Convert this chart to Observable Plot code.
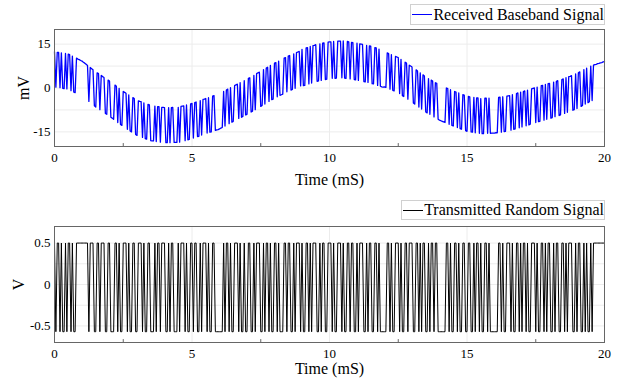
<!DOCTYPE html>
<html><head><meta charset="utf-8">
<script src="https://cdn.jsdelivr.net/npm/d3@7"></script>
<script src="https://cdn.jsdelivr.net/npm/@observablehq/plot@0.6"></script>
<style>
html,body{margin:0;padding:0;background:#fff;}
#wrap{position:relative;width:624px;height:382px;overflow:hidden;font-family:"Liberation Serif","Times New Roman",serif;}
#wrap svg, #wrap svg text{font-family:"Liberation Serif","Times New Roman",serif !important;}
.panel{position:absolute;left:0;}
.legend{position:absolute;box-sizing:border-box;border:1px solid #d0d0d0;background:#fff;font-size:16px;line-height:18px;display:flex;align-items:center;white-space:nowrap;color:#000;}
.legend .sw{display:inline-block;width:21px;height:0;border-top:1.6px solid;margin:0 1px 0 1px;}
</style></head><body>
<div id="wrap">
  <div id="top" class="panel" style="top:0px"></div>
  <div id="bottom" class="panel" style="top:190px"></div>
  <div class="legend" style="left:410px;top:4px;width:195px;height:21px"><span class="sw" style="border-color:#0000ff"></span>Received Baseband Signal</div>
  <div class="legend" style="left:401px;top:200px;width:204px;height:20px"><span class="sw" style="border-color:#000"></span>Transmitted Random Signal</div>
</div>
<script>
// ---- data (read/estimated from the reference) ----
const xTicks = [0, 5, 10, 15, 20];
const xMinorTicks = [2.5, 7.5, 12.5, 17.5];
const topYTicks = [-15, 0, 15];
const topYGrid = [-15, -7.5, 0, 7.5, 15];
const bottomYTicks = [-0.5, 0, 0.5];
const bottomYGrid = [-0.5, -0.25, 0, 0.25, 0.5];
const sampleStep = 0.05; // mS per bit

// transmitted bits, one per 0.05 mS (20 bits per mS), plus final sample at 20 mS
const bits = [
  1,0,1,1,0,1,0,0,1,0,1,1,0,1,0,0,1,1,1,1,
  1,1,1,1,1,0,1,1,1,0,0,1,1,0,1,1,1,0,0,1,
  1,0,0,0,1,1,0,1,0,0,1,1,1,0,1,0,0,1,1,0,
  0,1,1,1,0,1,0,0,1,1,0,0,0,1,0,1,1,0,1,1,
  1,0,0,1,0,1,1,0,0,0,1,0,1,1,1,0,1,0,0,1,
  1,0,1,1,0,0,1,0,1,1,1,0,1,0,0,1,1,0,0,0,
  0,0,0,1,0,1,1,0,1,0,0,1,1,1,0,1,0,0,1,0,
  0,1,1,0,0,1,0,1,1,1,0,0,1,0,1,1,0,1,0,0,
  1,1,0,1,0,0,0,1,1,0,1,1,0,0,1,0,1,1,1,0,
  1,0,0,1,1,0,1,0,1,1,1,0,0,1,0,1,1,0,0,1,
  1,1,0,1,0,0,1,1,1,0,1,0,0,1,1,0,1,1,0,0,
  1,0,1,1,1,0,0,1,0,1,1,0,0,1,1,0,1,0,0,0,
  0,0,1,1,0,1,0,0,1,1,1,0,1,0,0,1,1,0,1,1,
  1,0,0,1,1,0,1,0,1,1,0,0,1,0,1,1,0,1,1,0,
  0,0,0,0,0,1,1,0,1,0,0,1,1,0,1,0,0,1,1,0,
  0,1,1,0,0,1,0,1,1,0,1,0,0,1,1,0,1,0,0,0,
  0,0,0,1,1,0,1,0,0,1,1,1,0,1,0,0,1,1,0,1,
  0,1,1,0,1,0,0,1,1,1,0,1,0,0,1,1,0,1,0,1,
  1,0,0,1,0,1,1,0,0,1,1,0,1,0,1,1,1,0,0,1,
  0,1,1,0,0,1,0,1,0,0,1,0,1,1,1,1,1,1,1,1,
  1
];
const highLevel = 0.5;   // V, transmitted "1"
const lowLevel = -0.57;  // V, transmitted "0"

// slow trend of the received signal (mV), one value per sample, read from the envelope
const rxTrend = [
  6.4,6.3,6.2,6.2,6.1,6.0,5.9,5.8,5.8,5.7,
  5.6,5.4,5.1,4.9,4.6,4.4,4.2,3.9,3.7,3.4,
  3.2,2.8,2.5,2.1,1.7,1.4,1.0,0.6,0.2,-0.1,
  -0.5,-0.8,-1.1,-1.4,-1.7,-2.1,-2.4,-2.7,-3.0,-3.3,
  -3.6,-4.0,-4.3,-4.7,-5.0,-5.4,-5.8,-6.1,-6.5,-6.8,
  -7.2,-7.5,-7.8,-8.1,-8.4,-8.7,-9.0,-9.3,-9.6,-9.9,
  -10.2,-10.4,-10.6,-10.7,-10.9,-11.1,-11.3,-11.5,-11.6,-11.8,
  -12.0,-12.1,-12.1,-12.2,-12.3,-12.4,-12.4,-12.5,-12.6,-12.6,
  -12.7,-12.7,-12.7,-12.7,-12.7,-12.7,-12.6,-12.6,-12.6,-12.6,
  -12.6,-12.5,-12.3,-12.2,-12.1,-12.0,-11.8,-11.7,-11.6,-11.4,
  -11.3,-11.1,-11.0,-10.8,-10.6,-10.5,-10.3,-10.1,-9.9,-9.8,
  -9.6,-9.4,-9.3,-9.1,-9.0,-8.8,-8.6,-8.5,-8.3,-8.2,
  -8.0,-7.7,-7.5,-7.2,-7.0,-6.7,-6.4,-6.2,-5.9,-5.7,
  -5.4,-5.2,-4.9,-4.7,-4.4,-4.2,-4.0,-3.7,-3.5,-3.2,
  -3.0,-2.7,-2.5,-2.2,-1.9,-1.7,-1.4,-1.1,-0.8,-0.6,
  -0.3,0.0,0.3,0.5,0.8,1.1,1.4,1.7,2.0,2.2,
  2.5,2.7,3.0,3.2,3.5,3.7,3.9,4.2,4.4,4.7,
  4.9,5.1,5.3,5.5,5.7,5.9,6.1,6.3,6.5,6.7,
  6.9,7.1,7.2,7.4,7.5,7.7,7.9,8.0,8.2,8.3,
  8.5,8.6,8.7,8.8,8.9,9.0,9.1,9.2,9.3,9.4,
  9.5,9.5,9.6,9.6,9.6,9.7,9.7,9.7,9.7,9.8,
  9.8,9.7,9.6,9.6,9.5,9.4,9.3,9.2,9.2,9.1,
  9.0,8.9,8.8,8.7,8.6,8.5,8.4,8.3,8.2,8.1,
  8.0,7.8,7.7,7.5,7.4,7.2,7.0,6.9,6.7,6.6,
  6.4,6.2,6.0,5.8,5.6,5.4,5.2,5.0,4.8,4.6,
  4.4,4.1,3.8,3.4,3.1,2.8,2.5,2.2,1.8,1.5,
  1.2,0.9,0.5,0.2,-0.2,-0.5,-0.8,-1.2,-1.5,-1.9,
  -2.2,-2.5,-2.8,-3.0,-3.3,-3.6,-3.9,-4.2,-4.4,-4.7,
  -5.0,-5.2,-5.4,-5.6,-5.8,-6.0,-6.2,-6.4,-6.6,-6.8,
  -7.0,-7.2,-7.4,-7.5,-7.7,-7.9,-8.1,-8.3,-8.4,-8.6,
  -8.8,-8.9,-9.0,-9.0,-9.1,-9.2,-9.3,-9.4,-9.4,-9.5,
  -9.6,-9.6,-9.6,-9.5,-9.5,-9.5,-9.5,-9.5,-9.4,-9.4,
  -9.4,-9.3,-9.3,-9.2,-9.1,-9.1,-9.0,-8.9,-8.8,-8.8,
  -8.7,-8.6,-8.4,-8.3,-8.1,-8.0,-7.9,-7.7,-7.6,-7.4,
  -7.3,-7.2,-7.0,-6.9,-6.7,-6.6,-6.4,-6.3,-6.1,-6.0,
  -5.8,-5.7,-5.5,-5.4,-5.2,-5.1,-5.0,-4.8,-4.7,-4.5,
  -4.4,-4.3,-4.1,-4.0,-3.8,-3.7,-3.5,-3.4,-3.2,-3.1,
  -2.9,-2.7,-2.5,-2.3,-2.1,-2.0,-1.8,-1.6,-1.4,-1.2,
  -1.0,-0.8,-0.5,-0.3,0.0,0.3,0.5,0.8,1.0,1.3,
  1.5,1.7,1.8,2.0,2.1,2.3,2.4,2.6,2.7,2.9,
  3.0
];
// half swing of the received pulses (mV), one value per mS
const rxSwing = [6,6,6,6,6,6,6,6,6,6.3,6.3,6.3,6,6,6,6,6,6,6,6];

// ---- build table ----
const table = bits.map((b, i) => {
  const t = i * sampleStep;
  const s = rxSwing[Math.min(19, Math.floor(t + 1e-9))];
  return {t, rx: rxTrend[i] + (b ? s : -s), tx: b ? highLevel : lowLevel};
});

const font = '"Liberation Serif","Times New Roman",serif';
const fmt = d => String(d);

function panel(o) {
  return Plot.plot({
    width: 624, height: o.height,
    marginLeft: 54, marginRight: 20, marginTop: o.mTop, marginBottom: o.mBottom,
    style: {fontFamily: font, fontSize: "13px", background: "transparent", color: "#000", overflow: "visible"},
    x: {domain: [0, 20]},
    y: {domain: o.yDomain},
    marks: [
      Plot.gridY({ticks: o.yGrid, stroke: "#ececec", strokeOpacity: 1}),
      Plot.gridX({ticks: xTicks, stroke: "#ececec", strokeOpacity: 1}),
      Plot.axisX({ticks: xTicks, tickSize: 0, tickPadding: 6, fontSize: 13, label: null, tickFormat: fmt}),
      Plot.axisY({ticks: o.yTicks, tickSize: 0, tickPadding: 4, fontSize: 13, label: null, tickFormat: fmt}),
      Plot.line(table, {x: "t", y: o.key, stroke: o.color, strokeWidth: o.sw}),
      Plot.ruleX(xMinorTicks, {x: d => d, y1: o.yDomain[0], y2: o.minorTop, stroke: "#666"}),
      Plot.frame({stroke: "#666"}),
      Plot.text([o.xLabel], {text: d => d, frameAnchor: "bottom", dy: o.xLabelDy, lineAnchor: "bottom", fontSize: 16}),
      Plot.text([o.yLabel], {text: d => d, frameAnchor: "left", dx: o.yLabelDx, rotate: -90, lineAnchor: "middle", textAnchor: "middle", fontSize: 16})
    ]
  });
}

document.getElementById("top").append(panel({
  height: 190, mTop: 29, mBottom: 44,
  yDomain: [-20, 20], yTicks: topYTicks, yGrid: topYGrid,
  key: "rx", color: "#0000ff", sw: 1.3, minorTop: -19,
  xLabel: "Time (mS)", xLabelDy: 38, yLabel: "mV", yLabelDx: -31
}));
document.getElementById("bottom").append(panel({
  height: 192, mTop: 36, mBottom: 40,
  yDomain: [-0.7, 0.7], yTicks: bottomYTicks, yGrid: bottomYGrid,
  key: "tx", color: "#000000", sw: 1.0, minorTop: -0.665,
  xLabel: "Time (mS)", xLabelDy: 31, yLabel: "V", yLabelDx: -36
}));
</script>
</body></html>
